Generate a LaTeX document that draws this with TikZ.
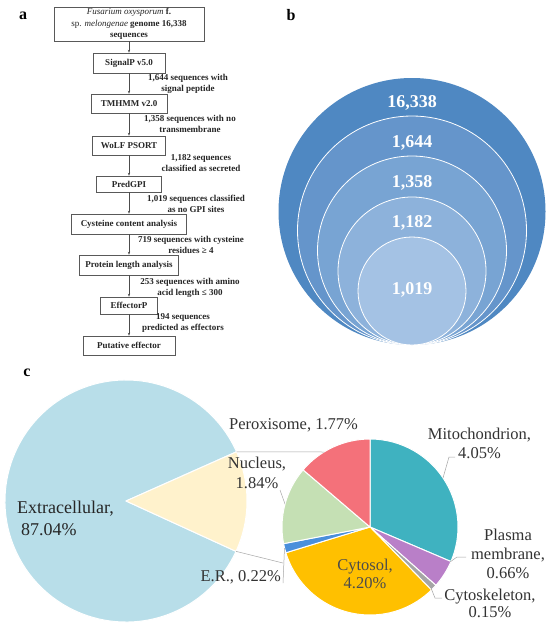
\documentclass[tikz,border=0pt]{standalone}
\usepackage{fontspec}
\setmainfont{Liberation Serif}
\usetikzlibrary{arrows.meta,calc}
\definecolor{cA}{HTML}{4F88C2}
\definecolor{cB}{HTML}{6595CB}
\definecolor{cC}{HTML}{78A4D3}
\definecolor{cD}{HTML}{8DB2DB}
\definecolor{cE}{HTML}{A4C2E4}
\definecolor{bigblue}{HTML}{B8DEE9}
\definecolor{cream}{HTML}{FFF2CC}
\definecolor{mito}{HTML}{3FB2C0}
\definecolor{plasma}{HTML}{B97FC8}
\definecolor{cytosk}{HTML}{A5A5A5}
\definecolor{cytosol}{HTML}{FFC000}
\definecolor{er}{HTML}{4A8FDB}
\definecolor{nucl}{HTML}{C5E0B4}
\definecolor{perox}{HTML}{F4717A}
\begin{document}
\begin{tikzpicture}[x=1pt,y=-1pt,
  fbox/.style={draw=black!65, line width=0.6pt, font=\fontsize{9}{11.5}\selectfont\bfseries, text=black!85, inner sep=0pt, align=center},
  flab/.style={font=\fontsize{9}{11}\selectfont\bfseries, text=black!85, align=center, inner sep=0pt},
  farr/.style={draw=black!70, line width=0.5pt, -{Stealth[length=3pt,width=2.4pt]}},
  panel/.style={font=\fontsize{16}{16}\selectfont\bfseries, inner sep=0pt},
  num/.style={font=\fontsize{18}{18}\selectfont\bfseries, text=white, inner sep=0pt},
  plab/.style={font=\fontsize{16.5}{19}\selectfont, text=black!80, align=center, inner sep=0pt},
  lead/.style={draw=black!35, line width=0.5pt},
  slice/.style={draw=white, line width=1pt, line join=round}]
\useasboundingbox (0,0) rectangle (550,626);
\fill[white] (0,0) rectangle (550,626);
% panel labels
\node[panel] (la) at (23,16) {a};
\node[panel] (lb) at (291,15) {b};
\node[panel] (lc) at (27,373) {c};
% ---- panel a: flowchart
\node[fbox, minimum width=150pt, minimum height=34pt] (b1) at (129,24) {{\mdseries\itshape Fusarium oxysporum} f.\\ {\mdseries sp. \itshape melongenae} genome 16,338\\ sequences};
\node[fbox, minimum width=72pt, minimum height=20pt] (b2) at (129,63) {SignalP v5.0};
\node[fbox, minimum width=76pt, minimum height=19pt] (b3) at (129,103.5) {TMHMM v2.0};
\node[fbox, minimum width=73pt, minimum height=19pt] (b4) at (129,145.5) {WoLF PSORT};
\node[fbox, minimum width=65pt, minimum height=16pt] (b5) at (129,184) {PredGPI};
\node[fbox, minimum width=115pt, minimum height=20pt] (b6) at (129,224) {Cysteine content analysis};
\node[fbox, minimum width=99pt, minimum height=20pt] (b7) at (129,265) {Protein length analysis};
\node[fbox, minimum width=57pt, minimum height=17pt] (b8) at (129,305.5) {EffectorP};
\node[fbox, minimum width=92pt, minimum height=19pt] (b9) at (129,345.5) {Putative effector};
\foreach \a/\b in {b1/b2,b2/b3,b3/b4,b4/b5,b5/b6,b6/b7,b7/b8,b8/b9}
  \draw[farr] (\a.south) -- (\b.north);
\node[flab] (l1) at (188,83.5) {1,644 sequences with\\signal peptide};
\node[flab] (l2) at (190,123.5) {1,358 sequences with no\\transmembrane};
\node[flab] (l3) at (201,163) {1,182 sequences\\classified as secreted};
\node[flab] (l4) at (196,203.5) {1,019 sequences classified\\as no GPI sites};
\node[flab] (l5) at (191,244.5) {719 sequences with cysteine\\residues ≥ 4};
\node[flab] (l6) at (190,287.5) {253 sequences with amino\\acid length ≤ 300};
\node[flab] (l7) at (183,323) {194 sequences\\predicted as effectors};
% ---- panel b: nested circles
\fill[cA] (412,211.5) circle[radius=133.5pt];
\filldraw[fill=cB, draw=white, line width=0.8pt] (412,230.5) circle[radius=114.5pt];
\filldraw[fill=cC, draw=white, line width=0.8pt] (412,250.5) circle[radius=94.5pt];
\filldraw[fill=cD, draw=white, line width=0.8pt] (412,271) circle[radius=74pt];
\filldraw[fill=cE, draw=white, line width=0.8pt] (412,291) circle[radius=54pt];
\node[num] (n1) at (412,103) {16,338};
\node[num] (n2) at (412,143) {1,644};
\node[num] (n3) at (412,183) {1,358};
\node[num] (n4) at (412,223) {1,182};
\node[num] (n5) at (412,290) {1,019};
% ---- panel c: pie of pie
\coordinate (bc) at (126,501);
\filldraw[slice, fill=bigblue] (bc) -- ++(24:121pt) arc[start angle=24, end angle=335.4, radius=121pt] -- cycle;
\filldraw[slice, fill=cream] (bc) -- ++(-24.6:121pt) arc[start angle=-24.6, end angle=24, radius=121pt] -- cycle;
\coordinate (sc) at (370,527);
\foreach \s/\e/\c in {90/-23.1/mito, -23.1/-41.5/plasma, -41.5/-45.7/cytosk, -45.7/-163/cytosol, -163/-169.1/er, -169.1/-220.5/nucl, -220.5/-270/perox}
  \filldraw[slice, fill=\c] (sc) -- ++(\s:88pt) arc[start angle=\s, end angle=\e, radius=88pt] -- cycle;
% connectors
\coordinate (wt) at ($(bc)+(24:121pt)$);
\coordinate (wb) at ($(bc)+(-24.6:121pt)$);
\coordinate (st) at (324,452);
\coordinate (sb) at (283,563);
\draw[lead] (wt) -- (st);
\draw[lead] (wb) -- (sb);
% labels
\node[plab, font=\fontsize{18}{22}\selectfont, text=black!85, align=left, anchor=west] (lext) at (17,518) {Extracellular,\\\hspace*{4pt}87.04\%};
\node[plab] (lper) at (293.5,425) {Peroxisome, 1.77\%};
\node[plab, font=\fontsize{16.5}{20}\selectfont] (lnuc) at (257,473) {Nucleus,\\1.84\%};
\node[plab] (lmit) at (479.5,443.5) {Mitochondrion,\\4.05\%};
\node[plab] (lpla) at (508,554) {Plasma\\membrane,\\0.66\%};
\node[plab, font=\fontsize{16.5}{17}\selectfont] (lcsk) at (490,603.5) {Cytoskeleton,\\0.15\%};
\node[plab, font=\fontsize{16.5}{18}\selectfont, text=black!70] (lcyt) at (365,574) {Cytosol,\\4.20\%};
\node[plab, anchor=east] (ler) at (281,577) {E.R., 0.22\%};
% leader lines
\coordinate (nl1) at (280,490); \coordinate (nl2) at (285,504);
\draw[lead] (nl1) -- (nl2);
\coordinate (ml1) at (455,457); \coordinate (ml2) at (449,457); \coordinate (ml3) at (443,478);
\draw[lead] (ml1) -- (ml2) -- (ml3);
\coordinate (pl1) at (466,557); \coordinate (pl2) at (457,557); \coordinate (pl3) at (450,562);
\draw[lead] (pl1) -- (pl2) -- (pl3);
\coordinate (kl1) at (442,598); \coordinate (kl2) at (435,598); \coordinate (kl3) at (431,588);
\draw[lead] (kl1) -- (kl2) -- (kl3);
\coordinate (el1) at (284.5,548); \coordinate (el2) at (283,583);
\draw[lead] (el1) -- (el2);
\end{tikzpicture}
\end{document}
